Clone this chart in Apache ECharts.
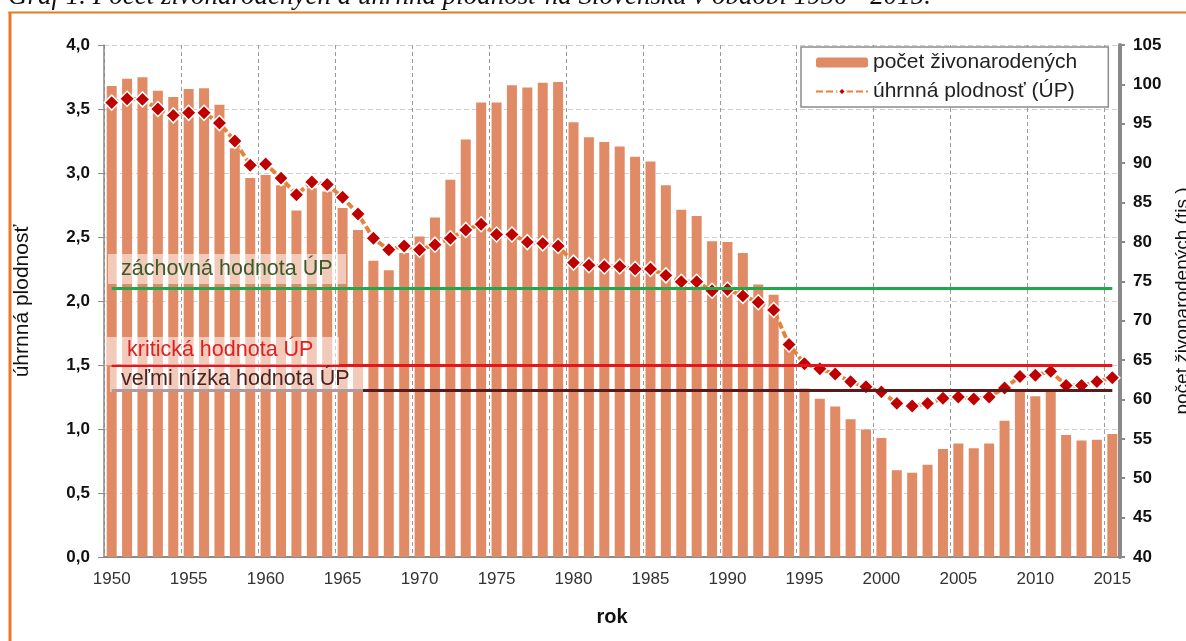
<!DOCTYPE html>
<html>
<head>
<meta charset="utf-8">
<script src="https://cdn.jsdelivr.net/npm/echarts@6/dist/echarts.min.js"></script>
<style>
html,body{margin:0;padding:0;background:#fff;overflow:hidden;}
#chart{width:1186px;height:641px;}
</style>
</head>
<body>
<div id="chart"></div>
<script>
var years = ['1950','1951','1952','1953','1954','1955','1956','1957','1958','1959',
'1960','1961','1962','1963','1964','1965','1966','1967','1968','1969',
'1970','1971','1972','1973','1974','1975','1976','1977','1978','1979',
'1980','1981','1982','1983','1984','1985','1986','1987','1988','1989',
'1990','1991','1992','1993','1994','1995','1996','1997','1998','1999',
'2000','2001','2002','2003','2004','2005','2006','2007','2008','2009',
'2010','2011','2012','2013','2014','2015'];

// počet živonarodených (tis.)
var births = [99.8,100.7,100.9,99.2,98.4,99.4,99.5,97.4,91.9,88.1,
88.5,87.2,84.0,86.8,86.4,84.3,81.5,77.6,76.4,78.6,
80.7,83.1,87.9,93.0,97.7,97.7,99.9,99.6,100.2,100.3,
95.2,93.3,92.7,92.1,90.8,90.2,87.2,84.1,83.3,80.1,
80.0,78.6,74.6,73.3,66.5,61.4,60.1,59.1,57.5,56.2,
55.1,51.0,50.7,51.7,53.7,54.4,53.8,54.4,57.3,61.2,
60.4,61.1,55.5,54.8,54.9,55.6];

// úhrnná plodnosť (ÚP)
var tfr = [3.55,3.58,3.575,3.50,3.45,3.47,3.47,3.39,3.25,3.06,
3.07,2.96,2.83,2.93,2.91,2.81,2.68,2.49,2.40,2.43,
2.40,2.44,2.49,2.555,2.60,2.52,2.52,2.46,2.45,2.43,
2.30,2.28,2.27,2.27,2.25,2.25,2.20,2.15,2.15,2.08,
2.09,2.04,1.99,1.93,1.66,1.51,1.47,1.43,1.37,1.33,
1.29,1.20,1.18,1.20,1.24,1.25,1.235,1.25,1.32,1.41,
1.42,1.45,1.34,1.34,1.37,1.40];

// reference levels
var refNames = ['záchovná hodnota ÚP','kritická hodnota ÚP','veľmi nízka hodnota ÚP'];
var refValues = [2.1, 1.5, 1.3];

var seriesNames = ['počet živonarodených','úhrnná plodnosť (ÚP)'];
var titleText = 'Graf 1. Počet živonarodených a úhrnná plodnosť na Slovensku v období 1950 - 2015.';

var FONT = '"Liberation Sans", Arial, sans-serif';
var refColors = ['#22A84A','#E8141C','#5A1A1A'];
var refTextColors = ['#3A5A28','#E02020','#4A2424'];

var chart = echarts.init(document.getElementById('chart'));

function refLine(i){
  return [
    {coord:[years[0], refValues[i]], lineStyle:{color:refColors[i], width:3, type:'solid'}},
    {coord:[years[years.length-1], refValues[i]]}
  ];
}

var option = {
  backgroundColor:'#fff',
  animation:false,
  textStyle:{fontFamily:FONT},
  grid:{left:104, right:66, top:45, bottom:84, containLabel:false, outerBoundsMode:'none'},
  legend:{
    data:seriesNames,
    orient:'vertical',
    left:801, top:47,
    itemWidth:52, itemHeight:10, itemGap:8,
    padding:[5,31,5,14],
    backgroundColor:'#fff',
    borderColor:'#8c8c8c', borderWidth:1.5,
    textStyle:{fontSize:21, color:'#222', fontFamily:FONT}
  },
  xAxis:{
    type:'category',
    data:years,
    boundaryGap:true,
    name:'rok',
    nameLocation:'middle',
    nameGap:50,
    nameTextStyle:{fontSize:20, fontWeight:'bold', color:'#111'},
    axisLine:{lineStyle:{color:'#8a8a8a', width:2}},
    axisTick:{interval:4, length:6, lineStyle:{color:'#8a8a8a'}},
    axisLabel:{interval:4, fontSize:17, color:'#333', margin:14},
    splitLine:{show:true, interval:4, lineStyle:{color:'#9a9a9a', type:[4,3], width:1}}
  },
  yAxis:[
    {
      type:'value', min:0, max:4, interval:0.5,
      position:'left',
      name:'úhrnná plodnosť',
      nameLocation:'middle', nameRotate:90, nameGap:71,
      nameTextStyle:{fontSize:21, color:'#111'},
      axisLine:{show:true, lineStyle:{color:'#8a8a8a', width:1.5}},
      axisTick:{show:true, length:6, lineStyle:{color:'#8a8a8a'}},
      axisLabel:{fontSize:17, fontWeight:'bold', color:'#111', margin:14,
        formatter:function(v){return v.toFixed(1).replace('.',',');}},
      splitLine:{show:true, lineStyle:{color:'#cfcfcf', type:[5,3], width:1}}
    },
    {
      type:'value', min:40, max:105, interval:5,
      position:'right',
      name:'počet živonarodených (tis.)',
      nameLocation:'middle', nameRotate:90, nameGap:53,
      nameTextStyle:{fontSize:19, color:'#111'},
      axisLine:{show:true, lineStyle:{color:'#8a8a8a', width:4}},
      axisTick:{show:true, length:5, lineStyle:{color:'#8a8a8a', width:2}},
      axisLabel:{fontSize:17, fontWeight:'bold', color:'#111', margin:13},
      splitLine:{show:false}
    }
  ],
  series:[
    {
      name:seriesNames[0],
      type:'bar',
      yAxisIndex:1,
      data:births,
      barWidth:10,
      itemStyle:{color:'#E08B66'},
      z:2
    },
    {
      name:seriesNames[1],
      type:'line',
      yAxisIndex:0,
      data:tfr,
      showSymbol:true,
      showAllSymbol:true,
      symbol:'diamond',
      symbolSize:15,
      lineStyle:{color:'#E8823A', width:4, type:[7,3]},
      itemStyle:{color:'#C00000', borderColor:'#fff', borderWidth:1.5},
      z:3
    },
    {
      name:'ref',
      type:'line',
      yAxisIndex:0,
      data:[],
      z:6,
      markLine:{
        silent:true,
        symbol:['none','none'],
        label:{show:false},
        z:6,
        data:[refLine(0), refLine(1), refLine(2)]
      }
    }
  ],
  graphic:[
    {type:'rect', z:100, shape:{x:8.5, y:12, width:3, height:700}, style:{fill:'#E8782A'}},
    {type:'rect', z:100, shape:{x:8.5, y:11.5, width:1300, height:2}, style:{fill:'#E8782A'}},
    {type:'text', z:100, left:8, top:-17,
      style:{text:titleText, font:'italic 27px "Liberation Serif", "Times New Roman", serif', fill:'#111'}},
    // annotation boxes
    {type:'rect', z:50, shape:{x:108, y:254, width:238, height:30}, style:{fill:'rgba(255,255,255,0.55)'}},
    {type:'text', z:51, left:121, top:258, style:{text:refNames[0], font:'21.5px '+FONT, fill:refTextColors[0]}},
    {type:'rect', z:50, shape:{x:107, y:337, width:232, height:28}, style:{fill:'rgba(255,255,255,0.55)'}},
    {type:'text', z:51, left:127, top:339, style:{text:refNames[1], font:'21.5px '+FONT, fill:refTextColors[1]}},
    {type:'rect', z:50, shape:{x:110, y:367, width:253, height:25}, style:{fill:'rgba(255,255,255,0.55)'}},
    {type:'text', z:51, left:121, top:368, style:{text:refNames[2], font:'21.5px '+FONT, fill:refTextColors[2]}}
  ]
};
chart.setOption(option);
</script>
</body>
</html>
